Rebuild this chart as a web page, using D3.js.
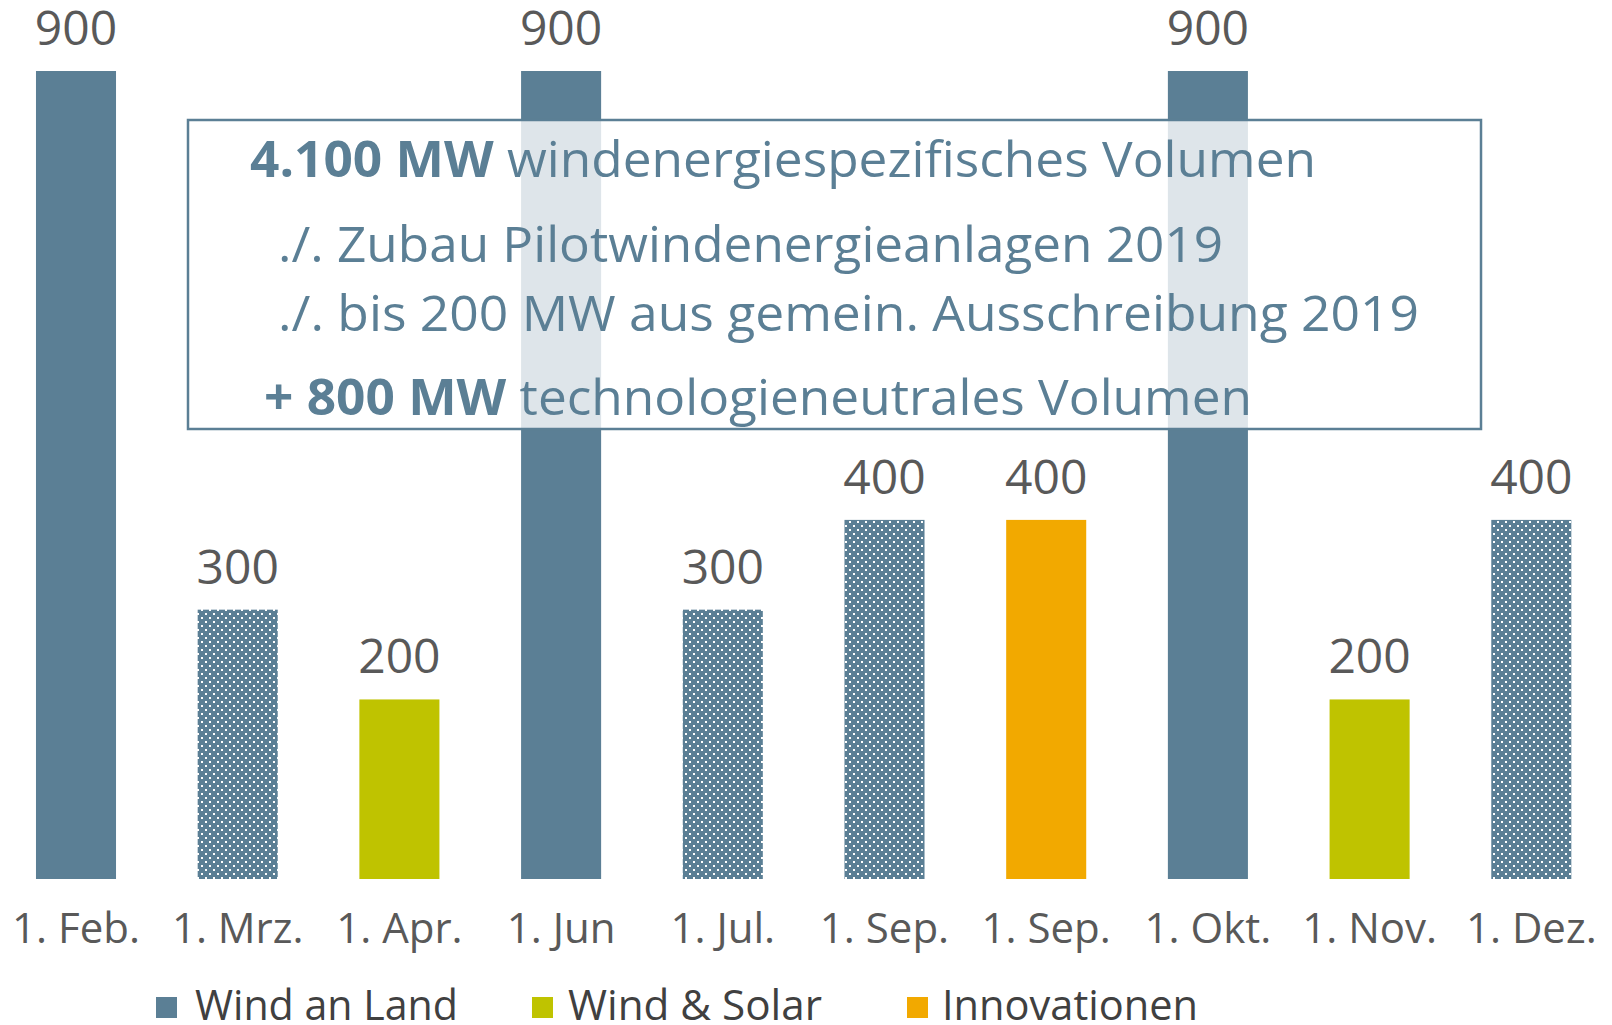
<!DOCTYPE html>
<html><head><meta charset="utf-8">
<script src="https://cdn.jsdelivr.net/npm/d3@7"></script>
<style>
html,body{margin:0;padding:0;background:#fff;}
svg{display:block;font-family:"Open Sans",sans-serif;}
</style></head>
<body>
<svg id="chart" width="1612" height="1025"></svg>
<script>
// ---- data ----
const categories = ["1. Feb.","1. Mrz.","1. Apr.","1. Jun","1. Jul.","1. Sep.","1. Sep.","1. Okt.","1. Nov.","1. Dez."];
const values = [900,300,200,900,300,400,400,900,200,400];
const types = ["wind","windDot","solar","wind","windDot","windDot","innov","wind","solar","windDot"];
const legendLabels = ["Wind an Land","Wind & Solar","Innovationen"];
const legendTypes = ["wind","solar","innov"];
const boxLines = [
  {bold:"4.100 MW", rest:" windenergiespezifisches Volumen"},
  {bold:"", rest:"./. Zubau Pilotwindenergieanlagen 2019"},
  {bold:"", rest:"./. bis 200 MW aus gemein. Ausschreibung 2019"},
  {bold:"+ 800 MW", rest:" technologieneutrales Volumen"}
];

const blue = "#5b7f95", green = "#bfc300", orange = "#f2a900", labelGray = "#595959";
const fills = {wind: blue, windDot: "url(#dots)", solar: green, innov: orange};

const svg = d3.select("#chart");
const defs = svg.append("defs");
const pat = defs.append("pattern").attr("id","dots").attr("patternUnits","userSpaceOnUse")
  .attr("width",8).attr("height",8);
pat.append("rect").attr("width",8).attr("height",8).attr("fill",blue);
pat.append("rect").attr("x",1).attr("y",1).attr("width",2).attr("height",2).attr("fill","#fff");
pat.append("rect").attr("x",5).attr("y",5).attr("width",2).attr("height",2).attr("fill","#fff");

const idx = d3.range(categories.length);
const step = 161.7;
const x = d3.scaleBand().domain(idx)
  .range([76 - step/2, 76 - step/2 + step*categories.length])
  .paddingInner(0.505).paddingOuter(0.2525);
const y = d3.scaleLinear().domain([0,900]).range([879,71]);

// bars
svg.append("g").selectAll("rect").data(idx).join("rect")
  .attr("x", i => x(i)).attr("width", x.bandwidth())
  .attr("y", i => y(values[i])).attr("height", i => y(0) - y(values[i]))
  .attr("fill", i => fills[types[i]]);

// value labels
svg.append("g").selectAll("text").data(idx).join("text")
  .attr("x", i => x(i) + x.bandwidth()/2)
  .attr("y", i => y(values[i]) - 26)
  .attr("text-anchor","middle").attr("font-size",48).attr("fill",labelGray)
  .text(i => values[i]);

// x axis
const axis = d3.axisBottom(x).tickSize(0).tickPadding(34).tickFormat(i => categories[i]);
const ag = svg.append("g").attr("transform",`translate(0,${y(0)})`).call(axis);
ag.select(".domain").remove();
ag.selectAll("text").attr("font-size",42).attr("fill",labelGray).attr("font-family","Open Sans");

// text box
svg.append("rect").attr("x",188).attr("y",120).attr("width",1293).attr("height",309)
  .attr("fill","#fff").attr("fill-opacity",0.8).attr("stroke",blue).attr("stroke-width",2.5);

const boxX = [250,278,278,264];
const boxY = [177,262,331,415];
const boxW = [1066,945,1141,988];
boxLines.forEach((l,k) => {
  const t = svg.append("text").attr("x",boxX[k]).attr("y",boxY[k])
    .attr("font-size",50).attr("fill",blue)
    .attr("textLength",boxW[k]).attr("lengthAdjust","spacingAndGlyphs");
  if (l.bold) t.append("tspan").attr("font-weight",700).text(l.bold);
  t.append("tspan").text(l.rest);
});

// legend
const legSq = [156,532,907];
const legTx = [195,568,942];
const legW = [263,254,256];
const lg = svg.append("g");
legendLabels.forEach((lab,k) => {
  lg.append("rect").attr("x",legSq[k]).attr("y",997).attr("width",21).attr("height",21)
    .attr("fill",fills[legendTypes[k]]);
  lg.append("text").attr("x",legTx[k]).attr("y",1020).attr("font-size",42).attr("fill","#404040")
    .attr("textLength",legW[k]).attr("lengthAdjust","spacingAndGlyphs").text(lab);
});
</script>
</body></html>
